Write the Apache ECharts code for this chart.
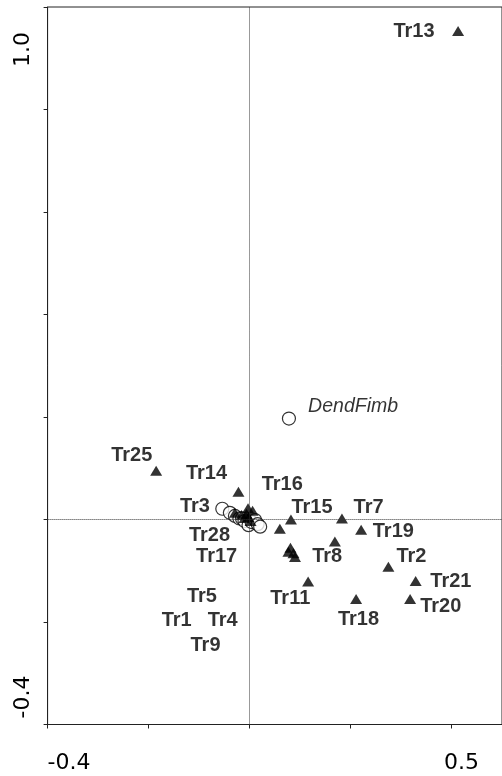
<!DOCTYPE html>
<html>
<head>
<meta charset="utf-8">
<script src="https://cdn.jsdelivr.net/npm/echarts@6/dist/echarts.min.js"></script>
<style>
  html, body { margin: 0; padding: 0; background: #fff; }
  #chart { width: 502px; height: 776px; }
</style>
</head>
<body>
<div id="chart"></div>
<script>
// Axis end labels (only the extremes are printed on this ordination diagram)
const xTickLabels = [-0.4, 0.5];
const yTickLabels = [-0.4, 1.0];

// Transect scores (triangles): [name, axis 1, axis 2]
const transects = [
  ['Tr13', 0.413, 0.953],
  ['Tr25', -0.185, 0.095],
  ['Tr14', -0.022, 0.054],
  ['Tr16', -0.003, 0.022],
  ['Tr3', -0.029, 0.013],
  ['Tr5', 0.006, 0.017],
  ['Tr28', -0.010, 0.003],
  ['Tr17', 0.002, -0.003],
  ['Tr1', -0.016, 0.009],
  ['Tr4', -0.006, 0.011],
  ['Tr9', -0.002, 0.005],
  ['Tr15', 0.082, 0.000],
  ['Tr7', 0.183, 0.002],
  ['Tr19', 0.221, -0.020],
  ['Tr8', 0.169, -0.043],
  ['Tr2', 0.275, -0.092],
  ['Tr11', 0.116, -0.121],
  ['Tr21', 0.329, -0.120],
  ['Tr18', 0.211, -0.155],
  ['Tr20', 0.318, -0.155],
  ['', 0.060, -0.018],
  ['', 0.081, -0.055],
  ['', 0.077, -0.063],
  ['', 0.087, -0.066],
  ['', 0.090, -0.073]
];

// Where each transect name is written (left end of the text, axis units)
const transectLabels = [
  ['Tr13', 0.285, 0.953],
  ['Tr25', -0.274, 0.124],
  ['Tr14', -0.126, 0.089],
  ['Tr16', 0.024, 0.069],
  ['Tr3', -0.138, 0.026],
  ['Tr28', -0.120, -0.032],
  ['Tr17', -0.106, -0.073],
  ['Tr5', -0.124, -0.151],
  ['Tr1', -0.174, -0.197],
  ['Tr4', -0.083, -0.197],
  ['Tr9', -0.117, -0.245],
  ['Tr15', 0.083, 0.024],
  ['Tr7', 0.206, 0.024],
  ['Tr19', 0.244, -0.024],
  ['Tr8', 0.124, -0.073],
  ['Tr2', 0.291, -0.073],
  ['Tr21', 0.358, -0.121],
  ['Tr11', 0.041, -0.155],
  ['Tr20', 0.338, -0.170],
  ['Tr18', 0.175, -0.196]
];

// Species scores (open circles)
const speciesX = [0.078, -0.054, -0.039, -0.029, -0.020, -0.015, -0.010, -0.002, 0.004, 0.011, 0.016, 0.021];
const speciesY = [0.197, 0.021, 0.013, 0.007, 0.002, 0.002, -0.003, -0.011, -0.005, -0.001, -0.009, -0.014];
const speciesLabels = [['DendFimb', 0.116, 0.2195]];

const sansBold = 'Liberation Sans, Arial, Helvetica, sans-serif';
const axisFont = 'DejaVu Sans, sans-serif';

const chart = echarts.init(document.getElementById('chart'), null, { renderer: 'canvas' });

chart.setOption({
  animation: false,
  backgroundColor: '#fff',
  grid: {
    left: 47.6, top: 7, right: -3.2, bottom: 51.5,
    show: true, borderColor: '#222', borderWidth: 1, backgroundColor: 'transparent'
  },
  xAxis: {
    type: 'value', min: -0.4, max: 0.5, interval: 0.2,
    axisLine: { show: true, onZero: false, lineStyle: { color: '#222', width: 1 } },
    axisTick: { show: true, length: 4, lineStyle: { color: '#222' } },
    splitLine: { show: false },
    axisLabel: {
      customValues: xTickLabels,
      margin: 28,
      alignMinLabel: 'left',
      alignMaxLabel: 'right',
      formatter: v => (v > 0 ? '{hi|' : '{lo|') + v.toFixed(1) + '}',
      rich: {
        lo: { fontFamily: axisFont, fontSize: 22, color: '#000' },
        hi: { fontFamily: axisFont, fontSize: 22, color: '#000', padding: [0, 23, 0, 0] }
      }
    }
  },
  yAxis: {
    type: 'value', min: -0.4, max: 1.0, interval: 0.2,
    axisLine: { show: true, onZero: false, lineStyle: { color: '#222', width: 1 } },
    axisTick: { show: true, length: 4, lineStyle: { color: '#222' } },
    splitLine: { show: false },
    axisLabel: {
      customValues: yTickLabels,
      rotate: 90,
      margin: 13,
      alignMinLabel: 'left',
      alignMaxLabel: 'right',
      formatter: v => (v > 0 ? '{hi|' : '{lo|') + v.toFixed(1) + '}',
      rich: {
        lo: { fontFamily: axisFont, fontSize: 22, color: '#000', padding: [0, 0, 0, 6] },
        hi: { fontFamily: axisFont, fontSize: 22, color: '#000', padding: [0, 25, 0, 0] }
      }
    }
  },
  series: [
    {
      // dotted zero lines through the origin
      type: 'scatter', data: [], z: 1, silent: true,
      markLine: {
        silent: true, animation: false, symbol: ['none', 'none'],
        label: { show: false },
        lineStyle: { type: [1, 1], color: '#333', width: 1 },
        data: [{ xAxis: 0 }, { yAxis: 0 }]
      }
    },
    {
      name: 'species', type: 'scatter', z: 3, silent: true,
      symbol: 'circle', symbolSize: 13,
      itemStyle: { color: '#fff', borderColor: '#000', borderWidth: 1.2 },
      data: speciesX.map((x, i) => [x, speciesY[i]])
    },
    {
      name: 'transects', type: 'scatter', z: 4, silent: true,
      symbol: 'triangle', symbolSize: [12, 10],
      itemStyle: { color: '#000' },
      data: transects.map(([n, x, y]) => ({ name: n, value: [x, y] }))
    },
    {
      name: 'transect names', type: 'scatter', z: 5, silent: true,
      symbolSize: 0,
      label: {
        show: true, position: [0, 0], align: 'left', verticalAlign: 'middle',
        formatter: '{b}', fontFamily: sansBold, fontWeight: 'bold', fontSize: 20, color: '#000'
      },
      data: transectLabels.map(([n, x, y]) => ({ name: n, value: [x, y] }))
    },
    {
      name: 'species names', type: 'scatter', z: 5, silent: true,
      symbolSize: 0,
      label: {
        show: true, position: [0, 0], align: 'left', verticalAlign: 'middle',
        formatter: '{b}', fontFamily: sansBold, fontStyle: 'italic', fontSize: 19.5, color: '#000'
      },
      data: speciesLabels.map(([n, x, y]) => ({ name: n, value: [x, y] }))
    }
  ]
});
</script>
</body>
</html>
